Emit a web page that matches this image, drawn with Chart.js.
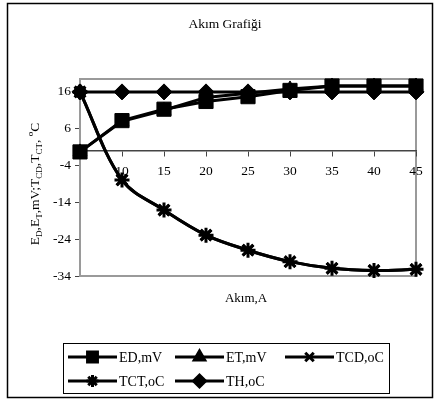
<!DOCTYPE html>
<html>
<head>
<meta charset="utf-8">
<script src="https://cdn.jsdelivr.net/npm/chart.js@4/dist/chart.umd.min.js"></script>
<style>
  html,body{margin:0;padding:0;background:#fff;}
  #c{display:block;}
</style>
</head>
<body>
<canvas id="c" width="438" height="403"></canvas>
<script>
// data
const currents = ['5','10','15','20','25','30','35','40','45'];
const edValues  = [-0.3, 8.2, 11.3, 13.4, 14.7, 16.4, 17.6, 17.6, 17.6];
const etValues  = [-0.3, 8.0, 11.0, 14.5, 15.6, 16.8, 17.6, 17.6, 17.6];
const tcdValues = [16, -7.9, -16.1, -22.9, -27.0, -30.1, -31.9, -32.5, -32.2];
const tctValues = [16, -7.9, -16.1, -22.9, -27.0, -30.1, -31.9, -32.5, -32.2];
const thValues  = [16, 16, 16, 16, 16, 16, 16, 16, 16];
const yTicks = [-34, -24, -14, -4, 6, 16];
const seriesNames = ['ED,mV', 'ET,mV', 'TCD,oC', 'TCT,oC', 'TH,oC'];
const chartTitle = 'Akım Grafiği';
const xTitle = 'Akım,A';

const SERIF = '"Liberation Serif", "Times New Roman", serif';

function series(label, data, style, radius, order, smooth){
  return {
    label, data, order,
    borderColor:'#000', backgroundColor:'#000', borderWidth:3,
    pointStyle:style, pointRadius:radius, pointHoverRadius:radius,
    pointBorderWidth: (style==='crossRot'||style==='star') ? 3 : 1,
    pointBackgroundColor:'#000', pointBorderColor:'#000',
    tension: smooth ? 0.35 : 0, clip:false
  };
}

// frame, plot border, titles and legend
const decor = {
  id:'decor',
  beforeDraw(chart){
    const ctx = chart.ctx, a = chart.chartArea;
    ctx.save();
    ctx.fillStyle='#fff'; ctx.fillRect(0,0,chart.width,chart.height);
    ctx.strokeStyle='#000'; ctx.lineWidth=1.5;
    ctx.strokeRect(7.5,3.5,425,394);
    ctx.strokeStyle='#9a9a9a'; ctx.lineWidth=2;
    ctx.strokeRect(a.left, a.top, a.right-a.left, a.bottom-a.top);
    ctx.restore();
  },
  afterDraw(chart){
    const ctx = chart.ctx;
    ctx.save();
    ctx.fillStyle='#000';
    ctx.font='13.5px '+SERIF;
    ctx.textAlign='center'; ctx.textBaseline='middle';
    ctx.fillText(chartTitle, 225, 24);
    ctx.font='13px '+SERIF;
    ctx.fillText(xTitle, 246, 299);

    // rotated y title with sub/superscripts
    const parts = [['E',0],['D',1],[',E',0],['T',1],[',mV;T',0],['CD',1],[',T',0],['CT',1],[', ',0],['o',2],['C',0]];
    const fontFor = k => k===0 ? '13.5px '+SERIF : '9px '+SERIF;
    let total = 0;
    parts.forEach(p=>{ ctx.font=fontFor(p[1]); total += ctx.measureText(p[0]).width; });
    ctx.translate(34, 184);
    ctx.rotate(-Math.PI/2);
    ctx.textAlign='left'; ctx.textBaseline='alphabetic';
    let x = -total/2;
    parts.forEach(p=>{
      ctx.font=fontFor(p[1]);
      const dy = p[1]===1 ? 3 : (p[1]===2 ? -6 : 0);
      ctx.fillText(p[0], x, 5+dy);
      x += ctx.measureText(p[0]).width;
    });
    ctx.setTransform(1,0,0,1,0,0);

    // legend box
    ctx.strokeStyle='#000'; ctx.lineWidth=1;
    ctx.strokeRect(63.5,343.5,326,50);
    const slots = [[68,357],[175,357],[285,357],[68,381],[175,381]];
    chart.data.datasets.forEach((ds,i)=>{
      const [lx,ly] = slots[i];
      ctx.strokeStyle='#000'; ctx.lineWidth=3;
      ctx.beginPath(); ctx.moveTo(lx,ly); ctx.lineTo(lx+49,ly); ctx.stroke();
      Chart.helpers.drawPoint(ctx, {pointStyle:ds.pointStyle, radius:ds.pointStyle==='rect'?7:6, rotation:0, borderWidth:ds.pointBorderWidth===3?2.5:1}, lx+24.5, ly);
      ctx.fillStyle='#000';
      ctx.font='14px '+SERIF; ctx.textAlign='left'; ctx.textBaseline='middle';
      ctx.fillText(seriesNames[i], lx+51, ly+1);
    });
    ctx.restore();
  }
};

new Chart(document.getElementById('c'), {
  type:'line',
  data:{
    labels: currents,
    datasets:[
      series(seriesNames[0], edValues, 'rect', 10, 5, false),
      series(seriesNames[1], etValues, 'triangle', 8, 4, false),
      series(seriesNames[2], tcdValues, 'crossRot', 7.5, 3, true),
      series(seriesNames[3], tctValues, 'star', 7.5, 2, true),
      series(seriesNames[4], thValues, 'rectRot', 8, 1, false)
    ]
  },
  options:{
    responsive:false, animation:false,
    layout:{ padding:{ left:0, top:79, right:22, bottom:127 } },
    plugins:{ legend:{display:false}, title:{display:false}, tooltip:{enabled:false} },
    scales:{
      x:{
        type:'category', offset:false,
        position:{ y:0 },
        afterFit(s){ s.height = 0; },
        grid:{ drawOnChartArea:false, drawTicks:true, tickLength:5, color:'#444', lineWidth:1 },
        border:{ display:true, color:'#444', width:1.5 },
        ticks:{
          color:'#000', font:{ family:SERIF, size:13.5 }, padding:8, maxRotation:0, autoSkip:false,
          callback(v, i){ return i===0 ? '' : currents[i]; }
        }
      },
      y:{
        min:-34, max:19.5,
        afterFit(s){ s.width = 80; },
        afterBuildTicks(s){ s.ticks = yTicks.map(v=>({value:v})); },
        grid:{ drawOnChartArea:false, drawTicks:true, tickLength:5, color:'#444' },
        border:{ display:true, color:'#9a9a9a', width:2 },
        ticks:{ color:'#000', font:{ family:SERIF, size:13.5 }, padding:4 }
      }
    }
  },
  plugins:[decor]
});
</script>
</body>
</html>
